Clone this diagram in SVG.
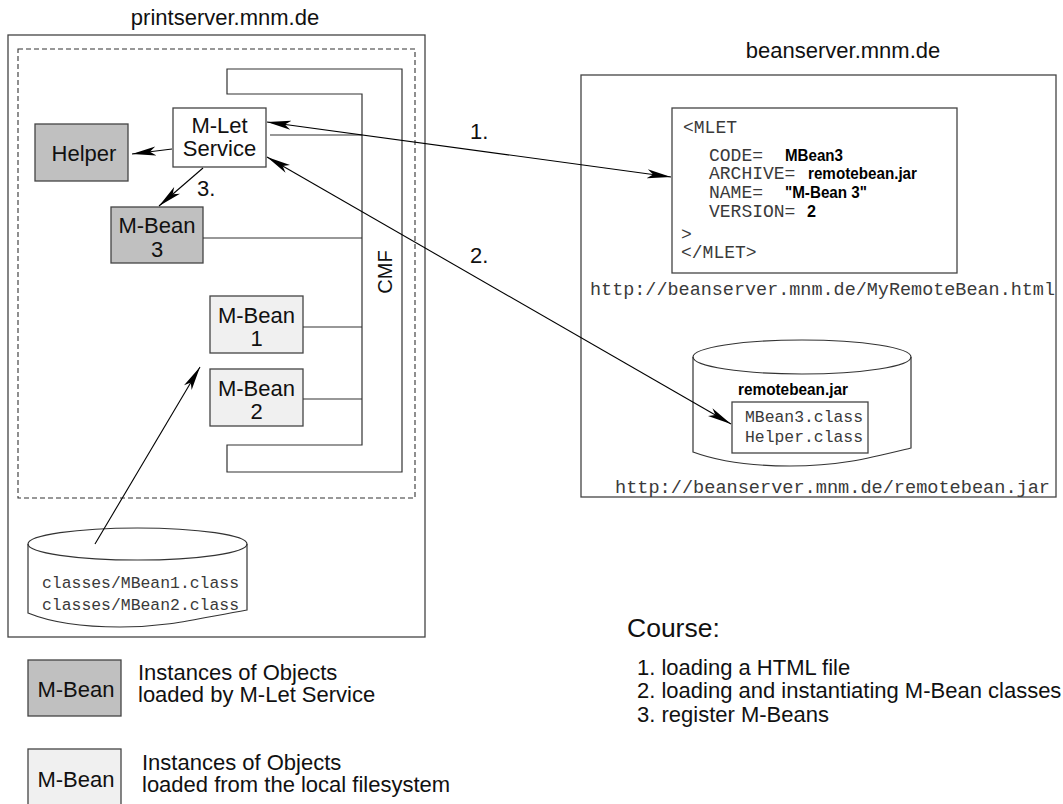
<svg xmlns="http://www.w3.org/2000/svg" width="1063" height="804" viewBox="0 0 1063 804">
<style>
.sans{font-family:"Liberation Sans",Arial,sans-serif;fill:#111;font-size:22px}
.mono{font-family:"Liberation Mono","Courier New",monospace;fill:#3a3a3a}
.box{stroke:#444;stroke-width:1.3}
.dark{fill:#c0c0c0}
.light{fill:#f0f0f0}
.white{fill:#fff}
.line{stroke:#333;stroke-width:1.2;fill:none}
.arr{stroke:#000;stroke-width:1.1;fill:none}
.bold{font-family:"Liberation Sans",Arial,sans-serif;font-weight:bold;fill:#000;font-size:17px}
</style>
<defs>
<marker id="ah" markerUnits="userSpaceOnUse" viewBox="0 0 24 10" refX="24" refY="5" markerWidth="24" markerHeight="10" orient="auto-start-reverse">
<path d="M0,0.5 L24,5 L0,9.5 L6,5 z" fill="#000"/>
</marker>
</defs>
<rect width="1063" height="804" fill="#fff"/>

<g id="printserver">
<text class="sans" x="225" y="25" text-anchor="middle">printserver.mnm.de</text>
<rect class="box" x="8" y="35" width="417" height="602" fill="none"/>
<rect x="18" y="49" width="397" height="449" fill="none" stroke="#333" stroke-width="1.1" stroke-dasharray="5,3"/>
</g>

<g id="cmf">
<path class="line" d="M227,69 H402 V472 H227 V445 H362 V94 H227 Z" fill="#fff"/>
<text class="sans" x="392" y="272" style="font-size:20px" text-anchor="middle" transform="rotate(-90 392 272)">CMF</text>
</g>

<g id="mlet-service">
<rect class="box white" x="173" y="108" width="93" height="59"/>
<text class="sans" x="219.5" y="133" text-anchor="middle">M-Let</text>
<text class="sans" x="219.5" y="156" text-anchor="middle">Service</text>
</g>

<g id="helper">
<rect class="box dark" x="35" y="124" width="93" height="57"/>
<text class="sans" x="84" y="161" text-anchor="middle">Helper</text>
</g>

<g id="mbean3">
<rect class="box dark" x="111" y="207" width="92" height="56"/>
<text class="sans" x="157" y="233" text-anchor="middle">M-Bean</text>
<text class="sans" x="157" y="257" text-anchor="middle">3</text>
</g>

<g id="mbean1">
<rect class="box light" x="210" y="296" width="93" height="57"/>
<text class="sans" x="256.5" y="323" text-anchor="middle">M-Bean</text>
<text class="sans" x="256.5" y="346" text-anchor="middle">1</text>
</g>

<g id="mbean2">
<rect class="box light" x="210" y="369" width="93" height="57"/>
<text class="sans" x="256.5" y="396" text-anchor="middle">M-Bean</text>
<text class="sans" x="256.5" y="419" text-anchor="middle">2</text>
</g>

<g id="local-disk">
<path class="line" d="M28,544 V613 C50,622 80,627 120,627 C170,627 200,618 247,610 V544" fill="#fff"/>
<ellipse class="line" cx="137.5" cy="544" rx="109.5" ry="16" fill="#fff"/>
<text class="mono" x="42" y="588" font-size="16.3" textLength="197" lengthAdjust="spacingAndGlyphs">classes/MBean1.class</text>
<text class="mono" x="42" y="610" font-size="16.3" textLength="197" lengthAdjust="spacingAndGlyphs">classes/MBean2.class</text>
</g>

<g id="beanserver">
<text class="sans" x="843" y="58" text-anchor="middle">beanserver.mnm.de</text>
<rect class="box" x="581" y="75" width="475" height="422" fill="none"/>
</g>

<g id="mlet-file">
<rect class="box white" x="672" y="108" width="285" height="165"/>
<text class="mono" x="683" y="133" font-size="18">&lt;MLET</text>
<text class="mono" x="709" y="161" font-size="18">CODE=</text>
<text class="mono" x="709" y="179" font-size="18">ARCHIVE=</text>
<text class="mono" x="709" y="198" font-size="18">NAME=</text>
<text class="mono" x="709" y="217" font-size="18">VERSION=</text>
<text class="bold" x="785" y="161" textLength="58" lengthAdjust="spacingAndGlyphs">MBean3</text>
<text class="bold" x="808" y="179" textLength="109" lengthAdjust="spacingAndGlyphs">remotebean.jar</text>
<text class="bold" x="785" y="198" textLength="82" lengthAdjust="spacingAndGlyphs">"M-Bean 3"</text>
<text class="bold" x="807" y="217" textLength="9" lengthAdjust="spacingAndGlyphs">2</text>
<text class="mono" x="681" y="240" font-size="18">&gt;</text>
<text class="mono" x="681" y="258" font-size="18">&lt;/MLET&gt;</text>
<text class="mono" x="590" y="295" font-size="19" textLength="465" lengthAdjust="spacingAndGlyphs">http://beanserver.mnm.de/MyRemoteBean.html</text>
</g>

<g id="remote-jar">
<path class="line" d="M693,357 V452 C720,462 750,466 790,466 C840,466 870,458 911,448 V357" fill="#fff"/>
<ellipse class="line" cx="802" cy="357" rx="109" ry="17" fill="#fff"/>
<text class="bold" x="738" y="395" textLength="110" lengthAdjust="spacingAndGlyphs">remotebean.jar</text>
<rect class="box white" x="732" y="402" width="136" height="51"/>
<text class="mono" x="745" y="422" font-size="16.3" textLength="118" lengthAdjust="spacingAndGlyphs">MBean3.class</text>
<text class="mono" x="745" y="442" font-size="16.3" textLength="118" lengthAdjust="spacingAndGlyphs">Helper.class</text>
<text class="mono" x="615" y="493" font-size="18.6" textLength="435" lengthAdjust="spacingAndGlyphs">http://beanserver.mnm.de/remotebean.jar</text>
</g>

<g id="connectors">
<line class="line" x1="270" y1="135" x2="362" y2="135"/>
<line class="line" x1="203" y1="238" x2="362" y2="238"/>
<line class="line" x1="303" y1="327" x2="362" y2="327"/>
<line class="line" x1="303" y1="399" x2="362" y2="399"/>
<line class="arr" x1="172" y1="149" x2="132" y2="154" marker-end="url(#ah)"/>
<line class="arr" x1="203" y1="168" x2="159" y2="206" marker-end="url(#ah)"/>
<text class="sans" x="197" y="196">3.</text>
<line class="arr" x1="95" y1="544" x2="200" y2="367" marker-end="url(#ah)"/>
<line class="arr" x1="267" y1="122" x2="671" y2="177" marker-start="url(#ah)" marker-end="url(#ah)"/>
<text class="sans" x="470" y="139">1.</text>
<line class="arr" x1="267" y1="157" x2="731" y2="424" marker-start="url(#ah)" marker-end="url(#ah)"/>
<text class="sans" x="470" y="263">2.</text>
</g>

<g id="legend">
<rect class="box dark" x="28" y="660" width="93" height="56"/>
<text class="sans" x="76" y="697" text-anchor="middle">M-Bean</text>
<text class="sans" x="138" y="680">Instances of Objects</text>
<text class="sans" x="138" y="702">loaded by M-Let Service</text>
<rect class="box light" x="28" y="749" width="93" height="60"/>
<text class="sans" x="76" y="787" text-anchor="middle">M-Bean</text>
<text class="sans" x="142" y="770">Instances of Objects</text>
<text class="sans" x="142" y="792">loaded from the local filesystem</text>
</g>

<g id="course">
<text class="sans" x="627" y="637" style="font-size:26.5px">Course:</text>
<text class="sans" x="637" y="675">1. loading a HTML file</text>
<text class="sans" x="637" y="698">2. loading and instantiating M-Bean classes</text>
<text class="sans" x="637" y="722">3. register M-Beans</text>
</g>
</svg>
